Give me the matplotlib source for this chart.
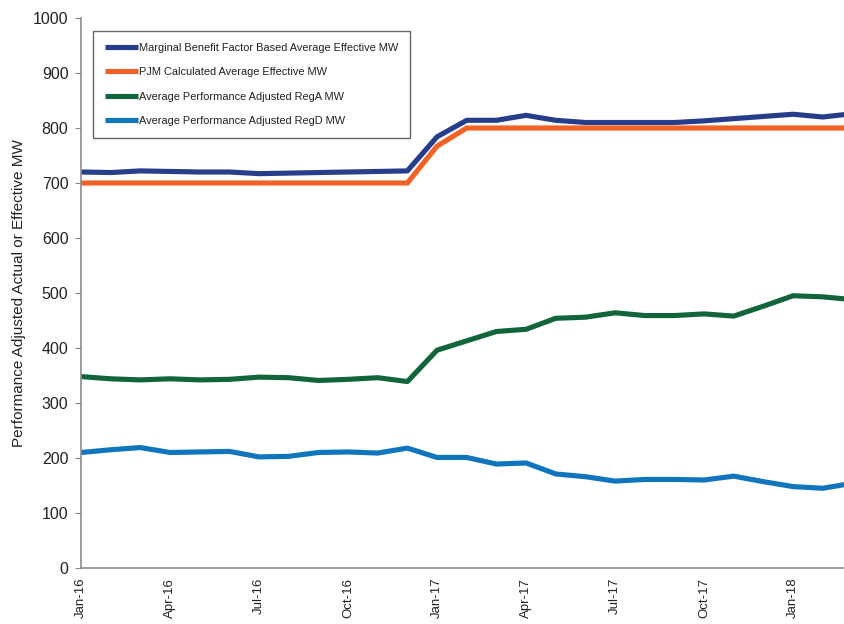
import matplotlib
matplotlib.use("Agg")
import matplotlib.pyplot as plt
from matplotlib import font_manager

# ---- data ----
months = ["Jan-16", "Feb-16", "Mar-16", "Apr-16", "May-16", "Jun-16", "Jul-16", "Aug-16", "Sep-16",
          "Oct-16", "Nov-16", "Dec-16", "Jan-17", "Feb-17", "Mar-17", "Apr-17", "May-17", "Jun-17",
          "Jul-17", "Aug-17", "Sep-17", "Oct-17", "Nov-17", "Dec-17", "Jan-18", "Feb-18", "Mar-18"]

mbf_effective = [720, 719, 722, 721, 720, 720, 717, 718, 719, 720, 721, 722,
                 784, 814, 814, 823, 814, 810, 810, 810, 810, 813, 817, 821, 825, 820, 826]
pjm_effective = [700, 700, 700, 700, 700, 700, 700, 700, 700, 700, 700, 700,
                 767, 800, 800, 800, 800, 800, 800, 800, 800, 800, 800, 800, 800, 800, 800]
rega_mw = [348, 344, 342, 344, 342, 343, 347, 346, 341, 343, 346, 339,
           396, 413, 430, 434, 454, 456, 464, 459, 459, 462, 458, 476, 495, 493, 488]
regd_mw = [210, 215, 219, 210, 211, 212, 202, 203, 210, 211, 209, 218,
           201, 201, 189, 191, 171, 166, 158, 161, 161, 160, 167, 157, 148, 145, 154]

series_labels = ["Marginal Benefit Factor Based Average Effective MW",
                 "PJM Calculated Average Effective MW",
                 "Average Performance Adjusted RegA MW",
                 "Average Performance Adjusted RegD MW"]
colors = ["#263D8C", "#F26226", "#12653A", "#0F76BD"]

# ---- fonts ----
avail = {f.name for f in font_manager.fontManager.ttflist}
narrow = "Liberation Sans Narrow" if "Liberation Sans Narrow" in avail else "Liberation Sans"
plt.rcParams["font.family"] = ["Liberation Sans", "DejaVu Sans"]

fig = plt.figure(figsize=(8.45, 6.24), dpi=100)
ax = fig.add_axes([81 / 845, 56 / 624, 1 - 81 / 845, 550 / 624])

x = list(range(len(months)))
for vals, lab, c in zip([mbf_effective, pjm_effective, rega_mw, regd_mw], series_labels, colors):
    ax.plot(x, vals, color=c, lw=3.7, label=lab, solid_capstyle="butt", solid_joinstyle="round")

ax.set_xlim(0, 25.75)
ax.set_ylim(0, 1000)
ax.set_yticks(range(0, 1001, 100))
ax.set_xticks(x[::3])
ax.set_xticklabels(months[::3], rotation=90, fontsize=9.5, color="#222222")
ax.tick_params(axis="y", labelsize=11.5, colors="#222222", length=4, color="#888888", pad=5)
ax.tick_params(axis="x", length=0, pad=7)
for side in ["top", "right"]:
    ax.spines[side].set_visible(False)
for side in ["left", "bottom"]:
    ax.spines[side].set_color("#8C8C8C")
    ax.spines[side].set_linewidth(1.2)

ax.set_ylabel("Performance Adjusted Actual or Effective MW", fontsize=11, color="#222222", labelpad=5)

leg = ax.legend(loc="upper left", bbox_to_anchor=(12 / 764, (568 - 31) / 550), borderaxespad=0,
                prop={"family": narrow, "size": 7.9}, handlelength=3.0, handletextpad=0.05,
                labelspacing=1.3, borderpad=1.1, fancybox=False, frameon=True)
leg.get_frame().set_edgecolor("#404040")
leg.get_frame().set_linewidth(1.0)
for t in leg.get_texts():
    t.set_color("#222222")

fig.savefig("out.png", dpi=100)
